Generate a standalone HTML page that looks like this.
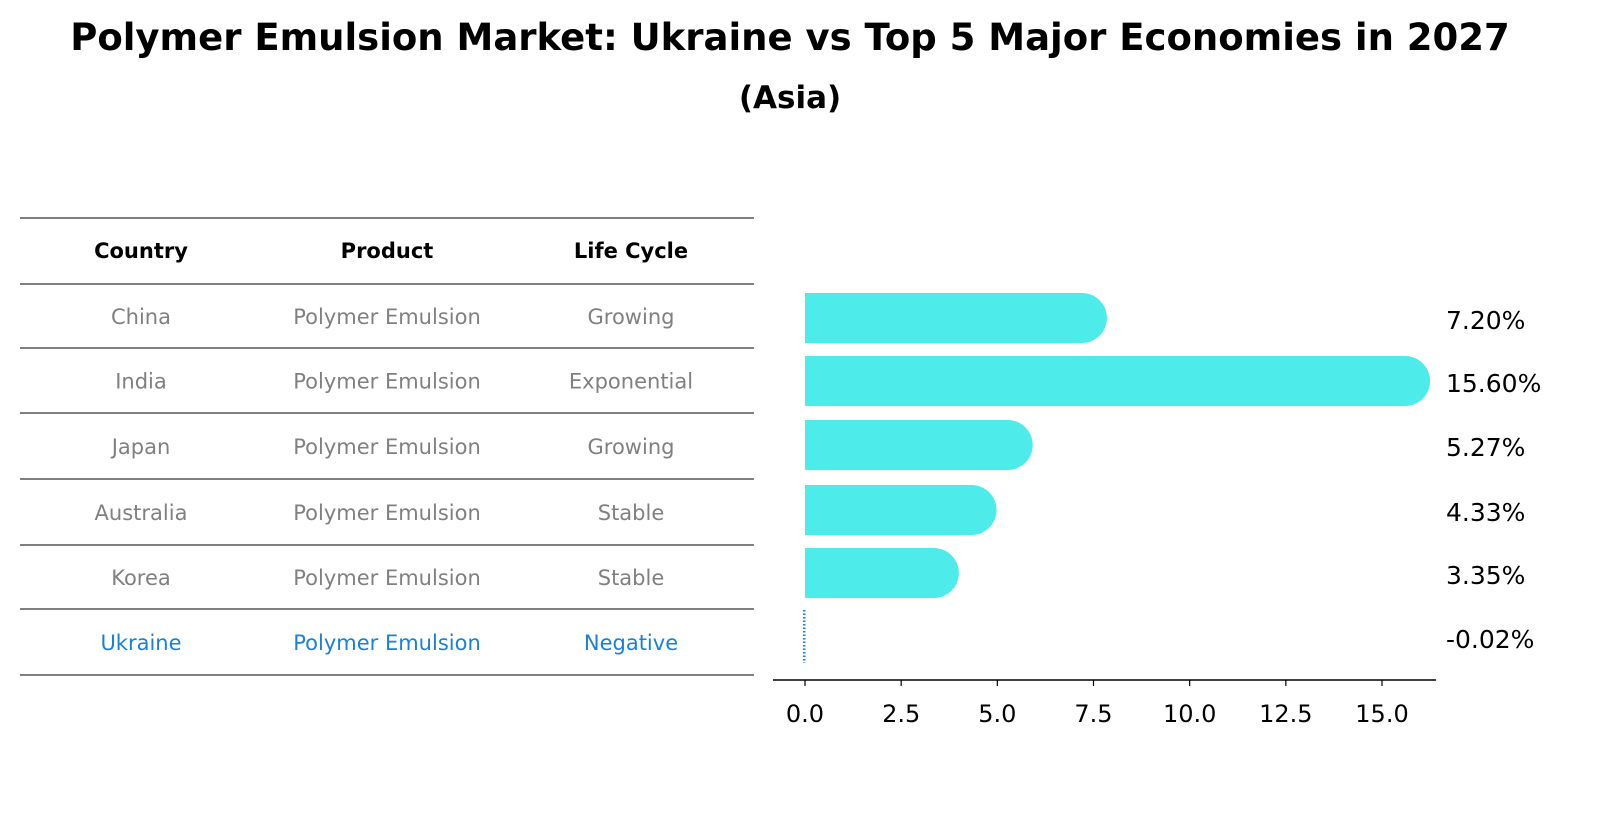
<!DOCTYPE html>
<html><head><meta charset="utf-8"><style>
body{margin:0;background:#fff;font-family:"Liberation Sans","DejaVu Sans",sans-serif;}
</style></head><body>
<svg width="1604" height="823" xmlns="http://www.w3.org/2000/svg" font-family="DejaVu Sans, Liberation Sans, sans-serif">
<text x="790" y="50" text-anchor="middle" font-size="37" font-weight="bold">Polymer Emulsion Market: Ukraine vs Top 5 Major Economies in 2027</text>
<text x="790" y="108" text-anchor="middle" font-size="31" font-weight="bold">(Asia)</text>
<g id="table"></g>
<g id="bars"></g>
</svg>
<script>
const countries=["China","India","Japan","Australia","Korea","Ukraine"];
const products=["Polymer Emulsion","Polymer Emulsion","Polymer Emulsion","Polymer Emulsion","Polymer Emulsion","Polymer Emulsion"];
const lifeCycles=["Growing","Exponential","Growing","Stable","Stable","Negative"];
const values=[7.20,15.60,5.27,4.33,3.35,-0.02];
const valueLabels=["7.20%","15.60%","5.27%","4.33%","3.35%","-0.02%"];
const ticks=[0,2.5,5,7.5,10,12.5,15];
const tickLabels=["0.0","2.5","5.0","7.5","10.0","12.5","15.0"];

const NS="http://www.w3.org/2000/svg";
function mk(tag,attrs,parent,text){const e=document.createElementNS(NS,tag);for(const k in attrs)e.setAttribute(k,attrs[k]);if(text!==undefined)e.textContent=text;parent.appendChild(e);return e;}
const tbl=document.getElementById('table');
const lineYs=[218,284,348,413,479,545,609,675];
lineYs.forEach(y=>{const l=mk('line',{x1:20,x2:754,y1:y,y2:y,stroke:'#000','stroke-width':1},tbl);

});
const colX=[141,387,631];
["Country","Product","Life Cycle"].forEach((h,i)=>{const t=mk('text',{x:colX[i],y:258,'text-anchor':'middle','font-size':21,'font-weight':'bold'},tbl,h);

});
const rowY=i=>(lineYs[i+1]+lineYs[i+2])/2+8;
countries.forEach((c,i)=>{const col=c==="Ukraine"?'#1a80d9':'#808080';
[c,products[i],lifeCycles[i]].forEach((v,j)=>{const t=mk('text',{x:colX[j],y:rowY(i),'text-anchor':'middle','font-size':21,fill:col},tbl,v);

});});

const g=document.getElementById('bars');
const x0=805,scale=(1382-805)/15;
const xs=v=>x0+v*scale;
const barCenters=[318,381,445,510,573,637];
const r=25;
values.forEach((v,i)=>{const cy=barCenters[i];
if(v>0){const xe=xs(v);
const p=mk('path',{d:`M${x0},${cy-r} L${xe},${cy-r} A${r},${r} 0 0 1 ${xe},${cy+r} L${x0},${cy+r} Z`,fill:'#4deceb'},g);

}
else{const l=mk('line',{x1:xs(v),x2:xs(v),y1:cy-27,y2:cy+26,stroke:'#1a80d9','stroke-width':2.5,'stroke-dasharray':'1.5,2'},g);

}
const t=mk('text',{x:1446,y:cy+11,'font-size':25},g,valueLabels[i]);

});
const ax=mk('line',{x1:773,x2:1436,y1:680,y2:680,stroke:'#000','stroke-width':1.5},g);


ticks.forEach((t,i)=>{const tk=mk('line',{x1:xs(t),x2:xs(t),y1:680,y2:686,stroke:'#000','stroke-width':1.2},g);


const tl=mk('text',{x:xs(t),y:722,'text-anchor':'middle','font-size':24},g,tickLabels[i]);

});
</script>
</body></html>
